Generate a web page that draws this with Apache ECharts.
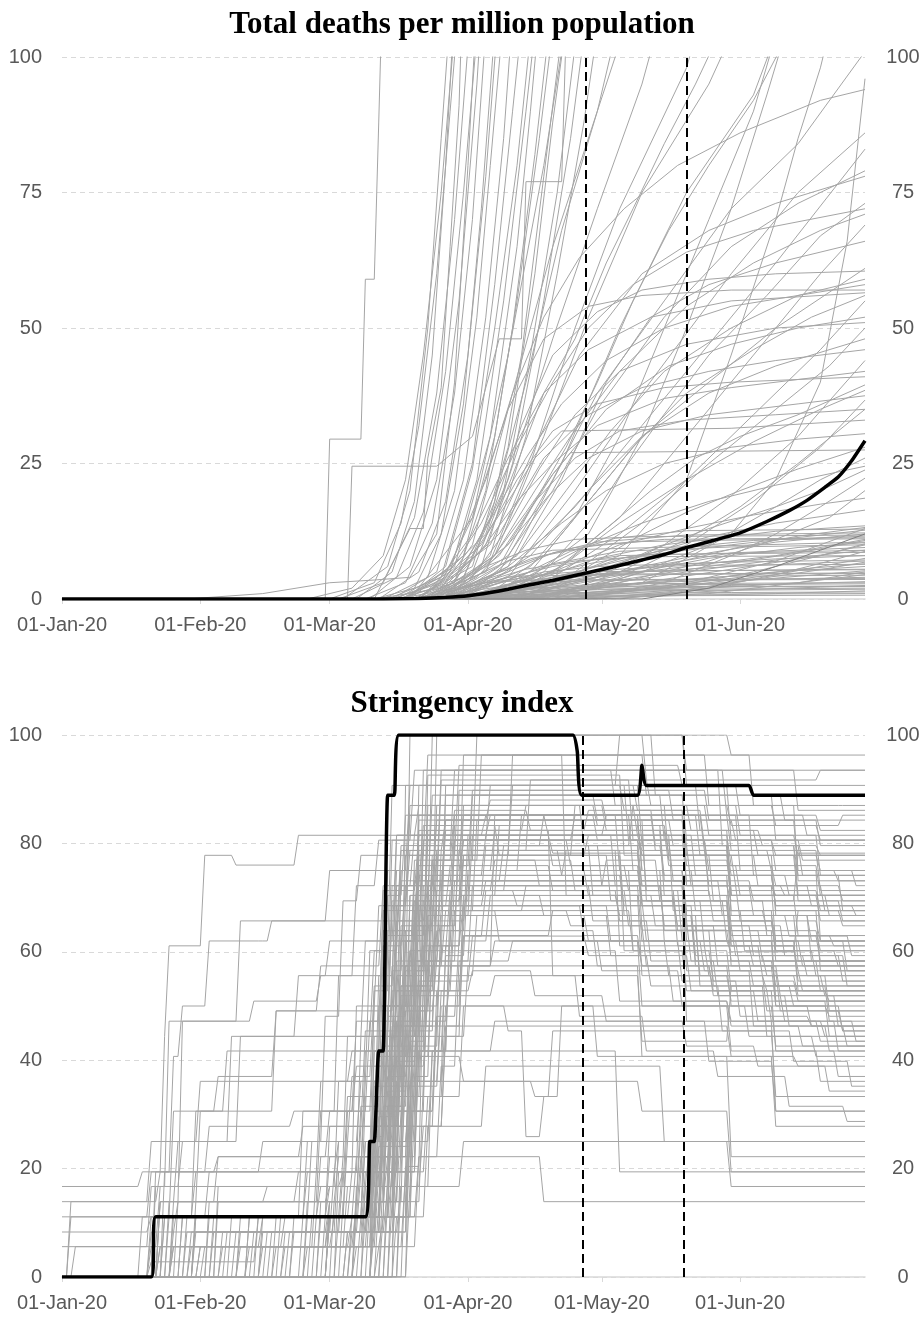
<!DOCTYPE html>
<html><head><meta charset="utf-8">
<script src="https://cdn.jsdelivr.net/npm/echarts@6/dist/echarts.min.js"></script>
<style>html,body{margin:0;padding:0;background:#fff}#c{width:924px;height:1318px}</style>
</head><body><div id="c"></div>
<script>
// ---- axis / label data ----
const monthTickDays = [0, 31, 60, 91, 121, 152];
const monthTickLabels = ['01-Jan-20', '01-Feb-20', '01-Mar-20', '01-Apr-20', '01-May-20', '01-Jun-20'];
const lastDay = 180; // 29-Jun-20
const deathsTitle = 'Total deaths per million population';
const stringencyTitle = 'Stringency index';
const deathsMarkerDays = [117.5, 140];
const stringencyMarkerDays = [116.8, 139.3];

// ---- highlighted (black) series: [day, value, day, value, ...] ----
const deathsHighlight = [0,0, 72,0, 80,0.1, 86,0.3, 91,0.6, 96,1.2, 100,1.8, 104,2.5, 110,3.4, 117,4.7, 123,5.8, 130,7.2, 135,8.2, 140,9.5, 146,10.8, 152,12.2, 158,14.3, 163,16.3, 167,18.2, 171,20.6, 174,22.5, 177,25.5, 180,29.2];
const stringencyHighlight = [0,0, 20,0, 21,11.1, 68,11.1, 69,25, 70,25, 71,41.7, 72,41.7, 73,88.9, 74.5,88.9, 75.5,100, 114.5,100, 115.5,97, 116.5,88.9, 129,88.9, 130,94.4, 131,90.7, 154,90.7, 155,88.9, 180,88.9];

// ---- deaths per million, grey country lines: [day, value, ...] ----
const deathsSteep = [
  [59,0, 60,29.5, 67,29.5, 68,59, 70,59, 71,88, 72,118],
  [28,0, 45,1, 60,3, 70,3.5, 78,4, 84,12, 88,40, 91,80, 93,110],
  [55,0, 65,2, 72,8, 77,22, 81,45, 85,75, 88,105],
  [60,0, 70,3, 76,14, 80,32, 84,60, 87,90, 89,110],
  [70,0, 78,13, 81,13, 82,26, 85,39, 87,65, 89,91, 90,117],
  [62,0, 72,3, 79,15, 84,38, 88,70, 91,102],
  [65,0, 75,4, 81,16, 86,42, 90,75, 93,104],
  [68,0, 77,3, 83,14, 88,38, 92,70, 95,105],
  [70,0, 79,2, 85,12, 90,36, 94,72, 97,105],
  [72,0, 82,4, 88,20, 93,52, 96,80, 99,108],
  [74,0, 84,5, 90,22, 95,52, 99,85, 101,108],
  [73,0, 85,4, 92,25, 97,58, 101,90, 103,106],
  [76,0, 87,5, 93,22, 99,55, 104,90, 106,105],
  [78,0, 88,3, 95,20, 101,50, 106,82, 109,104],
  [64,0, 65,24.5, 84,24.5, 92,30, 98,48, 103,48, 104,77, 112,77, 113,105],
  [80,0, 90,4, 97,18, 103,45, 108,78, 112,104],
  [79,0, 92,6, 100,28, 106,60, 110,88, 113,106],
  [74,0, 85,3, 92,15, 100,45, 108,80, 112,101],
  [75,0, 88,6, 96,30, 102,65, 105,90, 107,108]
];
const deathsSteep2 = [
  [66,0, 74,5, 79,18, 83,45, 86,80, 88,110],
  [63,0, 73,6, 78,20, 82,50, 85,85, 87,108],
  [69,0, 78,6, 84,22, 89,55, 93,95, 94,108],
  [71,0, 80,5, 86,18, 91,45, 95,78, 98,110],
  [77,0, 86,6, 92,24, 97,50, 102,80, 105,104],
  [78,0, 90,8, 97,30, 102,55, 107,85, 110,105],
  [81,0, 92,5, 99,20, 105,45, 111,75, 115,102],
  [83,0, 94,6, 101,25, 108,55, 114,85, 117,104],
  [85,0, 96,8, 104,30, 111,60, 117,88, 120,105]
];
const deathsRising = [
  [70,0, 85,2, 92,10, 100,35, 110,65, 120,90, 126,105],
  [75,0, 88,3, 96,15, 104,40, 112,68, 120,90, 124,104],
  [76,0, 90,4, 100,22, 110,48, 120,72, 130,95, 133,104],
  [80,0, 95,5, 105,25, 115,50, 125,72, 140,98, 142,104],
  [82,0, 97,8, 108,30, 118,52, 130,75, 145,95, 150,104],
  [85,0, 100,6, 112,25, 125,50, 140,75, 155,93, 160,104],
  [88,0, 105,5, 115,15, 125,30, 135,50, 145,70, 155,90, 160,104],
  [90,0, 105,4, 118,12, 130,30, 140,50, 150,72, 158,93, 162,104],
  [92,0, 110,3, 125,8, 140,22, 150,45, 160,70, 165,85, 170,98, 175,115],
  [100,0, 130,3, 150,12, 160,22, 170,40, 176,66, 180,96],
  [84,0, 98,5, 110,22, 120,38, 135,55, 150,72, 165,84, 180,101],
  [86,0, 100,4, 115,20, 130,38, 150,60, 165,75, 180,86],
  [83,0, 95,10, 102,25, 108,38, 115,48, 122,62, 128,72, 135,84, 142,95, 146,102],
  [87,0, 98,6, 106,18, 113,28, 120,40, 128,55, 136,68, 145,80, 155,92, 162,103],
  [77,0, 87,6, 95,22, 101,38, 108,52, 116,63, 126,72, 138,80, 152,86, 170,92, 180,94]
];
const deathsMid = [
  [82,0, 100,5, 115,17, 130,32, 145,47, 160,62, 180,83],
  [85,0, 100,8, 110,20, 120,35, 135,52, 150,65, 165,73, 180,79],
  [80,0, 96,10, 106,28, 116,45, 130,60, 145,68, 160,73, 180,78],
  [90,0, 110,5, 125,15, 140,30, 155,45, 170,60, 180,69],
  [85,0, 102,8, 112,22, 122,40, 132,52, 145,58, 160,62, 180,66],
  [80,0, 95,12, 103,32, 110,45, 120,53, 130,57, 145,59, 160,60, 180,60.5],
  [88,0, 105,6, 118,18, 130,30, 145,40, 160,50, 180,61],
  [78,0, 92,15, 100,35, 108,48, 118,54, 130,56, 150,57, 180,57],
  [92,0, 110,4, 125,12, 140,22, 155,34, 170,46, 180,55],
  [84,0, 100,10, 110,23, 122,35, 136,43, 150,47, 165,50, 180,52],
  [95,0, 115,5, 130,14, 145,25, 160,35, 172,43, 180,50],
  [90,0, 105,8, 118,20, 130,30, 145,38, 160,43, 180,48],
  [82,0, 98,12, 108,26, 118,34, 130,39, 145,42, 160,44, 180,46],
  [100,0, 120,4, 135,10, 150,19, 165,30, 180,44],
  [80,0, 94,10, 102,22, 110,31, 120,36, 135,39, 150,40, 180,41],
  [95,0, 112,6, 125,14, 140,22, 155,29, 170,35, 180,38.5],
  [105,0, 125,4, 140,10, 155,18, 170,28, 180,36.7],
  [85,0, 98,8, 106,18, 115,26, 125,31, 140,33, 160,34, 180,35],
  [80,0, 92,8, 100,18, 106,26, 112,31, 150,31.5, 180,33],
  [84,0, 96,7, 104,16, 110,23, 114,27, 180,27.5],
  [110,0, 130,5, 145,10, 160,17, 170,22, 180,26],
  [100,0, 118,4, 132,9, 145,13, 160,17, 170,20, 180,23.8],
  [115,0, 135,3, 150,8, 160,12, 170,17, 180,22.3],
  [105,0, 125,3, 145,7, 160,11, 172,15, 180,20],
  [90,0, 110,5, 125,10, 140,13, 155,15.5, 170,17.5, 180,18.6],
  [95,0, 115,4, 130,8, 145,11.5, 160,14, 180,16.4]
];
const deathsMid2 = [
  [96,0, 108,5, 118,14, 126,24, 134,33, 145,45, 158,56, 170,67, 180,73],
  [98,0, 112,6, 122,13, 132,20, 142,26, 152,30, 165,34, 180,39.5],
  [88,0, 100,6, 112,14, 122,20, 135,25, 150,28, 165,29.5, 180,30.5],
  [102,0, 116,5, 128,11, 140,16, 152,20, 165,24, 180,28],
  [92,0, 104,4, 118,10, 130,14, 145,18, 160,21, 180,24.5],
  [108,0, 125,5, 140,11, 152,17, 165,25, 180,35],
  [84,0, 94,9, 102,18, 110,25, 120,32, 135,37, 150,39, 180,42],
  [90,0, 103,9, 113,20, 123,31, 135,42, 150,50, 165,56, 180,59],
  [86,0, 97,8, 106,20, 114,30, 125,42, 140,54, 155,62, 170,68, 180,71],
  [94,0, 108,8, 118,18, 128,28, 140,38, 155,46, 168,52, 180,56],
  [76,0, 86,4, 94,14, 102,28, 110,40, 118,50, 128,58, 140,64, 155,68, 180,72],
  [79,0, 89,5, 97,16, 104,26, 112,36, 122,44, 135,50, 150,54, 180,58],
  [81,0, 91,3, 99,12, 107,24, 115,34, 125,42, 140,47, 160,50, 180,51],
  [74,0, 84,3, 92,12, 100,26, 108,38, 118,46, 132,52, 150,55, 180,56.5],
  [83,0, 93,4, 101,11, 109,19, 118,26, 130,31, 145,34, 165,36, 180,37.5]
];
const deathsLow = [
  [80,0, 95,3, 110,6, 125,8, 180,9],
  [85,0, 100,2, 115,5, 130,8, 150,10, 180,12.7],
  [82,0, 92,4, 100,7, 110,9, 180,10.5],
  [88,0, 105,2, 120,4, 140,6, 160,8, 180,11],
  [90,0, 110,1.5, 130,3, 150,5.5, 170,8, 180,10],
  [78,0, 90,2, 100,4, 115,5, 180,5.5],
  [80,0, 92,1, 105,3, 120,4.5, 150,6, 180,7],
  [95,0, 120,1, 140,2.5, 160,4.5, 180,7.5],
  [84,0, 96,2.5, 108,5, 120,6, 150,6.8, 180,7.2],
  [86,0, 100,1, 112,2, 130,3, 150,3.5, 180,4],
  [90,0, 105,0.8, 125,1.5, 150,2.5, 180,3.2],
  [75,0, 85,1.5, 95,3, 105,3.5, 180,3.8],
  [100,0, 125,1, 145,2, 165,3, 180,5],
  [88,0, 98,1.8, 110,2.2, 180,2.4],
  [92,0, 110,1, 130,1.5, 180,1.8],
  [80,0, 90,0.5, 110,1, 150,1.2, 180,1.3],
  [105,0, 130,0.5, 160,1, 180,1.5],
  [96,0, 115,3, 130,6, 145,8.5, 160,10.5, 180,12],
  [87,0, 100,5, 110,8.5, 120,10.5, 140,11.8, 180,12.2],
  [110,0, 135,2, 155,5, 170,8, 180,10.2],
  [82,0, 95,6, 104,9, 115,11, 130,11.5, 180,11.8],
  [98,0, 120,2, 140,3.5, 160,5, 180,6],
  [85,0, 97,1, 108,2, 120,2.8, 180,3],
  [120,0, 145,1, 165,3, 180,4.5],
  [93,0, 103,2, 113,4, 125,5, 140,5.2, 180,5.4],
  [89,0, 104,3.6, 118,6.5, 130,8.2, 180,8.6],
  [100,0, 115,0.6, 140,0.9, 180,1],
  [91,0, 112,2.8, 130,5.8, 150,8.5, 180,9.5],
  [115,0, 140,3, 160,7, 180,13],
  [94,0, 108,4, 120,7.5, 135,10, 160,12.5, 180,13.5]
];
const deathsLow2 = [
  [83,0, 95,4, 108,8, 120,10, 135,11, 180,11.3],
  [86,0, 98,3, 110,6.5, 125,8.8, 150,9.6, 180,10],
  [92,0, 106,2, 120,4.5, 135,6.2, 160,7.4, 180,8],
  [95,0, 110,1.5, 125,3.5, 145,6, 165,8.5, 180,10.8],
  [80,0, 88,1, 100,2.5, 110,3.2, 130,3.5, 180,3.6],
  [97,0, 118,1.2, 135,2.4, 150,3.8, 165,5.5, 180,6.5],
  [88,0, 100,2, 112,4.4, 125,5.5, 140,6.2, 180,6.4],
  [101,0, 120,2.5, 140,5, 160,7.2, 180,9],
  [85,0, 93,2.8, 104,5.5, 115,7, 130,7.8, 180,8],
  [108,0, 125,1.4, 145,2.8, 165,4.2, 180,5.2],
  [90,0, 102,1.2, 118,2, 135,2.6, 180,2.8],
  [112,0, 130,0.8, 150,1.6, 170,2.2, 180,2.5],
  [87,0, 96,4.2, 105,7.4, 115,9.5, 130,10.6, 160,11, 180,11.1],
  [93,0, 104,1, 120,1.8, 140,2.2, 180,2.3],
  [99,0, 112,2.3, 128,4.8, 145,7.5, 165,9.5, 180,10.4],
  [78,0, 86,0.6, 100,1.3, 120,1.7, 180,2],
  [104,0, 122,3, 138,6.8, 152,9.6, 165,11.6, 180,13.2],
  [89,0, 99,2.6, 108,3.8, 120,4.4, 150,4.6, 180,4.7],
  [118,0, 138,1.5, 155,3.6, 170,5.4, 180,6.8],
  [96,0, 114,4.6, 126,7.6, 138,9.4, 155,10.8, 180,11.6],
  [91,0, 100,0.3, 130,0.6, 180,0.7],
  [84,0, 91,1.8, 98,3.3, 106,4.2, 120,4.6, 180,4.8],
  [125,0, 145,2, 160,4.5, 172,7, 180,8.8],
  [102,0, 118,1.7, 132,3.2, 150,4.2, 180,4.4],
  [95,0, 105,5.2, 114,8.8, 124,11.2, 140,12.6, 180,12.9],
  [130,0, 145,2, 160,6, 170,9, 180,12]
];

// ---- stringency index, grey country lines, step form: [dayOfChange, newValue, ...] ----
const stringencyAsia = [
  [21,19.4, 23,44.4, 24,61.1, 32,77.8, 39,76, 53,81.5, 95,81.5, 110,78.2, 130,72.2, 150,69.4, 165,78.2],
  [2,11.1, 20,19.4, 25,40.7, 27,50, 33,62, 45,62, 47,65.7, 75,65.7, 82,72.2, 100,72.2, 130,62, 150,60, 165,67.6],
  [3,5.6, 20,16.7, 27,25, 38,44.4, 53,55.6, 60,62, 80,82.4, 110,55.6, 130,43.5, 150,53.7],
  [2,13.9, 20,25, 31,36.1, 75,40.7, 90,36.1, 130,30.6, 150,19.4],
  [22,13.9, 31,30.6, 37,41.7, 75,50, 83,57.4, 97,85.2, 140,85.2, 152,75, 170,62],
  [20,11.1, 33,19.4, 58,36.1, 65,41.7, 97,47.2, 145,39.8, 160,30.6],
  [23,11.1, 30,30.6, 48,49.1, 75,68.5, 90,96.3, 113,70.4, 130,55.6, 150,50.9],
  [24,13.9, 27,47.2, 40,65.7, 60,75, 90,80.6, 130,77.8, 150,70.4],
  [21,11.1, 25,30.6, 35,37, 48,49.1, 58,57.4, 72,72.2, 80,75, 140,67.6, 160,58.3],
  [22,13.9, 26,25, 40,44.4, 70,60.2, 76,79.6, 130,79.6, 150,70.4],
  [21,16.7, 24,47.2, 43,50.9, 58,55.6, 75,75, 135,62, 165,52.8],
  [23,19.4, 33,27.8, 52,30.6, 66,38.9, 73,63, 82,82.4, 150,70.4],
  [20,8.3, 26,13.9, 35,22.2, 54,27.8, 68,45.4, 74,68.5, 78,85.2, 130,75],
  [0,13.9, 22,19.4, 45,25, 67,36.1, 73,63.9, 80,74.1, 150,62],
  [0,8.3, 20,11.1, 55,19.4, 68,41.7, 72,71.3, 80,81.5, 140,72.2, 160,70.4],
  [0,5.6, 22,16.7, 64,33.3, 74,52.8, 80,90.7, 150,80.6],
  [0,11.1, 30,19.4, 62,25, 72,47.2, 77,69.4, 90,77.8, 126,60.2, 150,52.8],
  [0,16.7, 18,19.4, 35,22.2, 60,30.6, 70,50, 79,73.1, 140,66.7, 165,58.3]
];
const stringencyEurope = [
  [28,11.1, 55,25, 65,37, 70,53.7, 75,81.5, 80,87, 122,82.4, 135,70.4, 150,61.1, 165,54.6],
  [31,5.6, 57,19.4, 68,36.1, 73,70.4, 77,85.2, 128,75, 140,62, 160,50, 175,45.4],
  [40,8.3, 62,25, 71,55.6, 73,75, 78,90.7, 130,79.6, 150,67.6, 170,56.5],
  [25,11.1, 54,30.6, 66,47.2, 74,72.2, 79,81.5, 124,72.2, 140,63.9, 160,50.9, 172,44.4],
  [35,13.9, 60,16.7, 70,41.7, 72,63.9, 76,78.7, 86,84.3, 131,69.4, 150,57.4],
  [48,11.1, 64,25, 72,50, 76,73.1, 85,93.5, 148,79.6, 165,70.4],
  [22,5.6, 50,11.1, 68,33.3, 74,57.4, 79,75, 128,60.2, 140,52.8, 160,41.7, 174,37],
  [32,5.6, 60,11.1, 70,25.9, 73,37, 78,46.3, 150,40.7, 165,38.9],
  [29,8.3, 61,19.4, 66,50, 71,68.5, 78,78.7, 126,66.7, 143,53.7, 158,44.4],
  [55,13.9, 67,31.5, 72,61.1, 77,72.2, 84,84.3, 140,75.9, 160,72.2, 175,69.4],
  [24,11.1, 60,27.8, 73,62, 75,81.5, 95,85.2, 143,77.8, 160,66.7],
  [66,11.1, 70,44.4, 74,69.4, 78,87, 152,81.5, 170,74.1],
  [30,13.9, 46,16.7, 62,36.1, 69,60.2, 74,90.7, 127,80.6, 145,70.4, 165,63],
  [20,2.8, 44,11.1, 67,22.2, 72,42.6, 75,65.7, 80,79.6, 130,64, 150,58.3, 170,52.8],
  [35,16.7, 63,19.4, 71,38.9, 76,75, 130,68.5, 150,61.1, 165,56.5],
  [27,11.1, 58,22.2, 70,52.8, 74,80.6, 79,93.5, 149,85.2, 170,82.4],
  [42,11.1, 64,30.6, 69,47.2, 72,67.6, 98,62, 130,50, 150,41.7, 170,36.1],
  [22,13.9, 53,19.4, 67,44.4, 75,63.9, 80,72.2, 140,56.5, 155,46.3, 172,41.7],
  [18,11.1, 56,25, 59,48.1, 63,69.4, 67,77.8, 90,85.2, 125,75, 140,65.7, 160,60.2],
  [25,13.9, 58,30.6, 62,55.6, 66,72.2, 71,80.6, 110,75.9, 130,69.4, 150,63, 170,58.3],
  [33,11.1, 60,22.2, 64,44.4, 68,62, 76,75, 118,70.4, 138,61.1, 155,57.4]
];
const stringencyLate = [
  [40,5.6, 70,25, 74,56.5, 77,77.8, 82,96.3, 155,87, 175,87],
  [73,19.4, 76,50, 80,85.2, 150,78.7, 170,71.3],
  [60,11.1, 74,38.9, 79,67.6, 86,88.9, 135,80.6, 160,77.8],
  [30,11.1, 72,30.6, 76,64.8, 83,100, 133,88.9, 160,80.6],
  [50,8.3, 71,27.8, 75,55.6, 80,78.7, 88,93.5, 165,86.1],
  [75,36.1, 80,71.3, 86,84.3, 165,75, 178,72.2],
  [25,5.6, 68,16.7, 75,47.2, 81,80.6, 130,72.2, 152,65.7, 170,62],
  [70,13.9, 76,53.7, 83,76.9, 93,100, 131,91.7, 170,93.5],
  [56,11.1, 73,44.4, 77,62, 81,80.6, 115,85.2, 140,72.2, 160,61.1],
  [62,19.4, 76,41.7, 82,73.1, 90,80.6, 150,66.7, 168,58.3],
  [34,8.3, 69,22.2, 74,40.7, 78,58.3, 89,89.8, 145,84.3, 170,79.6],
  [74,13.9, 78,33.3, 82,58.3, 85,75, 103,85.2, 155,74.1, 175,67.6],
  [65,11.1, 75,30.6, 79,52.8, 84,71.3, 100,78.7, 125,61.1, 145,55.6, 165,51.9],
  [77,20.4, 81,54.6, 84,77.8, 101,96.3, 145,87, 165,73.1],
  [58,11.1, 72,27.8, 77,46.3, 84,68.5, 95,73.1, 155,69.4, 175,65.7],
  [70,8.3, 78,43.5, 82,66.7, 92,81.5, 150,75.9, 170,70.4],
  [45,5.6, 71,19.4, 80,50, 85,60.2, 125,50.9, 150,47.2, 170,43.5],
  [76,16.7, 79,37, 83,62, 90,87, 160,83.3, 175,85.2],
  [66,13.9, 73,22.2, 78,42.6, 85,66.7, 142,57.4, 160,50, 172,48.1],
  [72,11.1, 79,56.5, 82,92.6, 126,77.8, 165,69.4],
  [60,11.1, 71,50, 78,100, 140,93.5],
  [66,16.7, 75,62, 84,100, 150,96.3],
  [70,22.2, 77,90.7, 125,100, 140,90.7]
];
const stringencySpring = [
  [22,5.6, 45,11.1, 65,19.4, 73,50, 79,76.9, 88,86.1, 105,82.4, 118,86.1, 133,79.6, 141,72.2, 155,66.7, 168,62],
  [30,8.3, 60,13.9, 70,27.8, 76,62, 80,81.5, 96,85.2, 120,80.6, 137,73.1, 150,64.8, 162,59.3, 176,53.7],
  [44,11.1, 68,25, 74,44.4, 79,64.8, 84,78.7, 112,74.1, 126,68.5, 142,59.3, 158,55.6, 172,49.1],
  [25,5.6, 64,16.7, 72,36.1, 77,56.5, 83,73.1, 99,79.6, 121,72.2, 135,63.9, 146,53.7, 164,50],
  [38,11.1, 66,22.2, 75,52.8, 82,87, 117,79.6, 128,87, 136,76.9, 150,70.4, 170,65.7],
  [52,8.3, 71,33.3, 78,70.4, 85,91.7, 128,80.6, 145,75, 160,67.6, 175,64.8],
  [33,13.9, 67,27.8, 73,48.1, 78,60.2, 87,71.3, 102,68.5, 123,62, 139,54.6, 152,48.1, 168,46.3],
  [57,11.1, 72,38.9, 76,57.4, 80,75.9, 92,89.8, 137,84.3, 151,80.6, 166,76.9],
  [28,8.3, 63,19.4, 70,30.6, 77,63.9, 81,79.6, 119,70.4, 133,64.8, 147,57.4, 161,51.9, 174,46.3],
  [61,13.9, 73,41.7, 79,69.4, 86,82.4, 104,87, 120,83.3, 136,77.8, 151,72.2, 168,68.5],
  [36,5.6, 69,16.7, 74,42.6, 79,65.7, 91,74.1, 113,78.7, 130,69.4, 144,61.1, 157,55.6, 171,51.9],
  [46,8.3, 70,30.6, 74,46.3, 80,84.3, 96,88, 122,84.3, 130,75, 142,67.6, 158,63.9, 170,60.2],
  [23,11.1, 58,16.7, 71,29.6, 76,53.7, 82,70.4, 108,66.7, 123,59.3, 141,52.8, 156,47.2, 171,44.4],
  [68,16.7, 75,46.3, 80,77.8, 89,94.4, 139,90.7, 152,85.2, 167,81.5],
  [42,5.6, 66,13.9, 72,27.8, 79,58.3, 85,67.6, 114,64.8, 131,57.4, 146,51.9, 163,46.3, 176,42.6],
  [62,11.1, 74,36.1, 81,69.4, 90,76.9, 107,72.2, 122,76.9, 134,69.4, 149,62, 166,57.4],
  [26,13.9, 62,22.2, 70,36.1, 75,72.2, 81,83.3, 98,77.8, 118,81.5, 131,71.3, 146,65.7, 160,60.2, 174,57.4],
  [54,11.1, 69,22.2, 76,51.9, 83,74.1, 95,81.5, 137,67.6, 153,60.2, 169,55.6],
  [71,13.9, 77,44.4, 81,64.8, 88,79.6, 108,85.2, 144,78.7, 159,75, 174,73.1],
  [31,5.6, 65,11.1, 73,34.3, 78,49.1, 84,58.3, 101,62, 121,56.5, 139,50, 154,44.4, 169,40.7],
  [64,8.3, 72,25, 77,55.6, 82,71.3, 97,76.9, 115,71.3, 127,64.8, 143,55.6, 158,52.8, 172,50.9],
  [49,11.1, 70,27.8, 75,58.3, 81,93.5, 124,87, 141,82.4, 156,77.8, 170,75],
  [37,8.3, 67,19.4, 74,38.9, 80,54.6, 92,62.9, 118,59.3, 132,53.7, 148,45.4, 164,39.8, 177,35.2],
  [59,11.1, 71,24.1, 77,45.4, 84,63.9, 120,57.4, 137,50.9, 150,46.3, 166,42.6],
  [74,22.2, 79,63.9, 84,87, 129,81.5, 142,74.1, 160,68.5, 178,66.7],
  [27,11.1, 60,16.7, 69,25, 74,44.4, 80,68.5, 87,75.9, 110,71.3, 125,65.7, 141,58.3, 155,53.7, 172,47.2],
  [67,11.1, 74,33.3, 79,53.7, 84,70.4, 98,83.3, 135,73.1, 148,66.7, 163,62.9, 177,59.3],
  [43,8.3, 69,16.7, 75,39.8, 80,57.4, 86,67.6, 104,72.2, 119,65.7, 132,58.3, 147,51.9, 162,47.2, 178,43.5],
  [72,19.4, 78,52.8, 83,76.9, 94,96.3, 131,88.9, 162,84.3],
  [34,11.1, 63,22.2, 71,40.7, 77,62, 83,77.8, 123,69.4, 138,64.8, 151,59.3, 167,55.6],
  [48,5.6, 70,25, 76,47.2, 81,61.1, 90,69.4, 131,62, 144,56.5, 161,49.1, 175,45.4],
  [63,13.9, 73,31.5, 78,60.2, 85,78.7, 101,90.7, 129,86.1, 140,77.8, 156,72.2, 171,67.6],
  [39,8.3, 68,19.4, 74,33.3, 81,52.8, 92,56.5, 106,51.9, 122,47.2, 140,42.6, 156,38.9, 172,34.3],
  [55,11.1, 72,31.5, 77,57.4, 82,80.6, 114,75.9, 127,71.3, 139,62, 152,56.5, 166,52.8],
  [76,25, 80,58.3, 86,90.7, 143,82.4, 157,79.6, 170,77.8],
  [29,5.6, 61,11.1, 70,22.2, 76,38.9, 82,51.9, 97,55.6, 116,48.1, 131,41.7, 147,37, 163,31.5, 176,28.7],
  [69,13.9, 75,40.7, 81,72.2, 88,85.2, 109,81.5, 122,85.2, 133,78.7, 145,72.2, 162,70.4],
  [51,8.3, 71,22.2, 77,49.1, 83,68.5, 117,63, 130,57.4, 146,52.8, 159,47.2, 174,41.7],
  [45,11.1, 68,25, 73,45.4, 78,70.4, 83,88.9, 120,84.3, 137,79.6, 150,74.1, 163,70.4],
  [78,30.6, 82,66.7, 88,83.3, 130,77.8, 146,69.4, 158,63, 173,61.1]
];
const stringencyLateMarch = [
  [65,8.3, 78,25, 83,41.7, 87,63.9, 91,81.5, 130,78.7, 150,71.3, 170,67.6],
  [55,5.6, 77,19.4, 82,33.3, 86,50, 90,70.4, 95,79.6, 135,74.1, 160,68.5],
  [68,11.1, 79,30.6, 84,52.8, 88,67.6, 93,84.3, 140,79.6, 165,74.1],
  [71,5.6, 80,22.2, 85,38.9, 89,58.3, 92,72.2, 135,64.8, 155,59.3, 175,54.6],
  [47,8.3, 76,16.7, 81,27.8, 86,44.4, 91,57.4, 97,62, 130,57.4, 150,50, 168,46.3],
  [73,13.9, 81,36.1, 86,61.1, 90,77.8, 115,87, 145,81.5, 165,77.8],
  [60,11.1, 78,27.8, 84,47.2, 87,55.6, 93,66.7, 118,62, 136,55.6, 158,49.1],
  [78,16.7, 83,41.7, 87,69.4, 92,88.9, 140,80.6, 160,75],
  [42,11.1, 74,19.4, 79,36.1, 85,52.8, 90,63, 110,67.6, 128,60.2, 146,54.6, 165,50.9],
  [64,8.3, 75,22.2, 80,41.7, 86,59.3, 91,75, 97,82.4, 136,75.9, 152,70.4, 172,66.7],
  [70,19.4, 77,36.1, 82,55.6, 88,73.1, 140,66.7, 160,62, 176,56.5],
  [36,8.3, 73,16.7, 78,30.6, 84,48.1, 89,62, 96,70.4, 125,66.7, 142,58.3, 160,53.7],
  [58,13.9, 76,30.6, 80,47.2, 85,64.8, 89,78.7, 105,91.7, 132,87, 150,83.3, 170,80.6],
  [75,11.1, 82,27.8, 86,46.3, 90,62.9, 95,71.3, 138,63.9, 157,58.3],
  [52,11.1, 75,24.1, 79,40.7, 83,61.1, 88,80.6, 96,90.7, 126,86.1, 144,79.6, 166,74.1]
];
const stringencyLow = [
  [66,5.6, 72,11.1, 80,22.2, 108,13.9],
  [50,5.6, 75,16.7, 90,25, 150,16.7],
  [40,11.1, 70,19.4, 80,41.7, 125,19.4],
  [20,5.6, 60,13.9, 75,33.3, 90,50, 120,40.7, 150,22.2],
  [60,13.9, 74,27.8, 95,38.9, 135,25],
  [45,8.3, 72,30.6, 80,57.4, 130,40.7, 160,27.8],
  [70,11.1, 78,44.4, 90,68.5, 140,47.2, 160,30.6],
  [30,11.1, 70,35.2, 85,50, 100,45.4, 104,25.9, 108,33.3, 112,50, 160,42.6],
  [25,8.3, 72,25, 78,36.1, 106,33.3, 110,45.4, 160,33.3]
];

// ---- build ----
function pairs(flat) {
  const pts = [];
  for (let i = 0; i < flat.length; i += 2) pts.push([flat[i], flat[i + 1]]);
  if (pts[0][0] > 0) pts.unshift([0, 0]);
  return pts;
}
function steps(flat) {
  const pts = [];
  let prev = 0;
  if (flat[0] > 0) pts.push([0, 0]);
  for (let i = 0; i < flat.length; i += 2) {
    const d = flat[i], v = flat[i + 1];
    if (d > 0 && (!pts.length || pts[pts.length - 1][0] < d - 1)) pts.push([d - 1, prev]);
    pts.push([d, v]);
    prev = v;
  }
  pts.push([lastDay, prev]);
  return pts;
}

const GREY = '#a5a5a5';
const series = [];
function greyLine(data, gi, color) {
  series.push({type: 'line', xAxisIndex: gi, yAxisIndex: gi * 2, data: data, showSymbol: false, symbol: 'none',
    silent: true, lineStyle: {color: color || GREY, width: 1}, z: 2});
}
[deathsSteep, deathsSteep2, deathsRising, deathsMid, deathsMid2, deathsLow].forEach(g => g.forEach(l => greyLine(pairs(l), 0)));
deathsLow2.forEach((l, i) => greyLine(pairs(l), 0, i === deathsLow2.length - 1 ? '#7f7f7f' : GREY));
[stringencyAsia, stringencyEurope, stringencyLate, stringencySpring, stringencyLateMarch, stringencyLow].forEach(g => g.forEach(l => greyLine(steps(l), 1)));

function blackLine(flat, gi, markers) {
  series.push({type: 'line', xAxisIndex: gi, yAxisIndex: gi * 2, data: pairs(flat), showSymbol: false, symbol: 'none',
    silent: true, smooth: 0.15, lineStyle: {color: '#000', width: 3.5}, z: 5,
    markLine: {silent: true, symbol: 'none', label: {show: false},
      lineStyle: {color: '#000', width: 2, type: [9, 5]},
      data: markers.map(d => ({xAxis: d}))}});
}
blackLine(deathsHighlight, 0, deathsMarkerDays);
blackLine(stringencyHighlight, 1, stringencyMarkerDays);

const labelFor = v => monthTickLabels[monthTickDays.indexOf(v)] || '';
function xAxis(gi) {
  return {type: 'value', gridIndex: gi, min: 0, max: lastDay,
    axisLine: {show: true, lineStyle: {color: '#d9d9d9', width: 1.5}},
    axisTick: {show: true, customValues: monthTickDays, length: 5, lineStyle: {color: '#d9d9d9'}},
    axisLabel: {customValues: monthTickDays, formatter: labelFor, fontFamily: 'Liberation Sans, Arial', fontSize: 20, color: '#595959', margin: 16},
    splitLine: {show: false}};
}
function yAxes(gi, interval) {
  const base = {type: 'value', gridIndex: gi, min: 0, max: 100, interval: interval,
    axisLine: {show: false}, axisTick: {show: false}};
  return [
    Object.assign({}, base, {position: 'left',
      axisLabel: {fontFamily: 'Liberation Sans, Arial', fontSize: 20, color: '#595959', margin: 20},
      splitLine: {show: true, lineStyle: {color: '#d9d9d9', type: [5, 4], width: 1}}}),
    Object.assign({}, base, {position: 'right',
      axisLabel: {fontFamily: 'Liberation Sans, Arial', fontSize: 20, color: '#595959', margin: 38, align: 'center'},
      splitLine: {show: false}})
  ];
}

const chart = echarts.init(document.getElementById('c'), null, {renderer: 'canvas'});
chart.setOption({
  animation: false,
  backgroundColor: '#fff',
  title: [
    {text: deathsTitle, left: 'center', top: 4, textStyle: {fontFamily: 'Liberation Serif, Times New Roman', fontWeight: 'bold', fontSize: 31, color: '#000'}},
    {text: stringencyTitle, left: 'center', top: 683, textStyle: {fontFamily: 'Liberation Serif, Times New Roman', fontWeight: 'bold', fontSize: 31, color: '#000'}}
  ],
  grid: [
    {left: 62, right: 59, top: 57, height: 542},
    {left: 62, right: 59, top: 735, height: 542}
  ],
  xAxis: [xAxis(0), xAxis(1)],
  yAxis: yAxes(0, 25).concat(yAxes(1, 20)),
  series: series
});
</script></body></html>
